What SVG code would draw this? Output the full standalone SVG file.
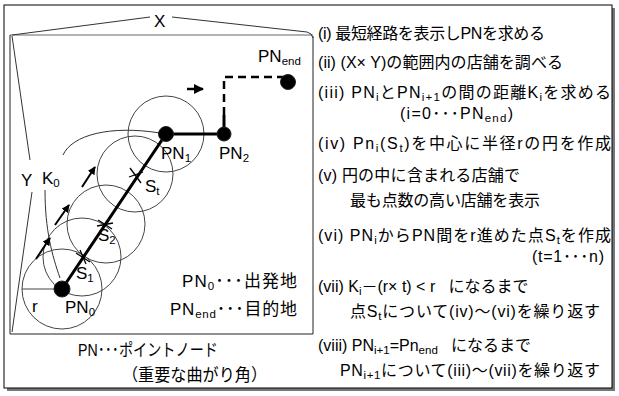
<svg xmlns="http://www.w3.org/2000/svg" width="619" height="396" viewBox="0 0 619 396">
<style>
.t{font-family:"Liberation Sans","Noto Sans CJK JP",sans-serif;font-size:17px;fill:#000}
.r{font-size:16px}
.s{font-size:11.5px}
.c{fill:none;stroke:#444;stroke-width:1}
.br{fill:none;stroke:#333;stroke-width:1}
.dot{fill:#000;stroke:#222;stroke-width:1}
.path{fill:none;stroke:#000;stroke-width:3}
.dash{fill:none;stroke:#000;stroke-width:2.5;stroke-dasharray:8 5}
.tick{stroke:#000;stroke-width:1.3}
</style>
<defs>
<marker id="ah" viewBox="0 0 10 10" refX="9" refY="5" markerWidth="4" markerHeight="4" orient="auto" markerUnits="strokeWidth"><path d="M0,0 L10,5 L0,10 z" fill="#000"/></marker>
</defs>
<g id="frame">
<rect x="7" y="8" width="608" height="383" fill="#777"/>
<rect x="4" y="5" width="608" height="383" fill="#fff" stroke="#000" stroke-width="1"/>
<line x1="10" y1="35" x2="313" y2="35" stroke="#999" stroke-width="1.5"/>
<polyline points="10,35 10,334 313,334 313,36" fill="none" stroke="#222" stroke-width="1"/>
</g>
<g id="brackets">
<path class="br" d="M12,35 L150,17"/>
<path class="br" d="M172,17 L307,32 Q312,33 313,38"/>
<text class="t" x="154" y="27" font-size="18">X</text>
<path class="br" d="M12,36 L30,160"/>
<path class="br" d="M32,192 L12,332"/>
<text class="t" x="21" y="186">Y</text>
<path class="br" d="M63,155 C72,135 110,125 160,133"/>
<path class="br" d="M45,190 C45,230 52,255 60,278"/>
<text class="t" x="42" y="184">K<tspan class="s" dy="3">0</tspan></text>
</g>
<g id="circles">
<circle class="c" cx="62" cy="289" r="40"/>
<circle class="c" cx="82" cy="257" r="39"/>
<circle class="c" cx="106" cy="224" r="39"/>
<circle class="c" cx="135" cy="174" r="38"/>
<circle class="c" cx="166" cy="134" r="38"/>
<line class="c" x1="22" y1="289" x2="62" y2="289"/>
</g>
<g id="connectors">
<polyline class="path" points="62,289 166,134 224,134 224,115"/>
<polyline class="dash" points="224,115 224,77 284,77"/>
<line x1="187" y1="89" x2="203" y2="89" stroke="#000" stroke-width="2.5" marker-end="url(#ah)"/>
<line x1="36" y1="259" x2="50" y2="238" stroke="#000" stroke-width="2" marker-end="url(#ah)"/>
<line x1="55" y1="225" x2="69" y2="205" stroke="#000" stroke-width="2" marker-end="url(#ah)"/>
<line x1="82" y1="187" x2="95" y2="167" stroke="#000" stroke-width="2" marker-end="url(#ah)"/>
</g>
<g id="PN0">
<circle class="dot" cx="62" cy="289" r="8"/>
<text class="t" x="65" y="313">PN<tspan class="s" dy="3">0</tspan></text>
<text class="t" x="32" y="312">r</text>
</g>
<g id="S1">
<line class="tick" x1="76" y1="253" x2="90" y2="262"/>
<line class="tick" x1="80" y1="250" x2="86" y2="264"/>
<text class="t" x="76" y="279">S<tspan class="s" dy="3">1</tspan></text>
</g>
<g id="S2">
<line class="tick" x1="98" y1="220" x2="112" y2="229"/>
<line class="tick" x1="97" y1="226" x2="113" y2="223"/>
<text class="t" x="98" y="241">S<tspan class="s" dy="3">2</tspan></text>
</g>
<g id="St">
<line class="tick" x1="130" y1="168" x2="141" y2="183"/>
<line class="tick" x1="129" y1="177" x2="143" y2="172"/>
<text class="t" x="145" y="192">S<tspan class="s" dy="3">t</tspan></text>
</g>
<g id="PN1">
<circle class="dot" cx="166" cy="134" r="7.5"/>
<text class="t" x="161" y="159">PN<tspan class="s" dy="3">1</tspan></text>
</g>
<g id="PN2">
<circle class="dot" cx="224" cy="134" r="7"/>
<text class="t" x="219" y="159">PN<tspan class="s" dy="3">2</tspan></text>
</g>
<g id="PNend">
<circle class="dot" cx="288" cy="82" r="7.5"/>
<text class="t" x="258" y="62">PN<tspan class="s" dy="3">end</tspan></text>
</g>
<g id="legend">
<text class="t" x="182" y="287" textLength="115" lengthAdjust="spacing">PN<tspan class="s" dy="3">0</tspan><tspan dy="-3">･･･出発地</tspan></text>
<text class="t" x="170" y="315" textLength="127" lengthAdjust="spacing">PN<tspan class="s" dy="3">end</tspan><tspan dy="-3">･･･目的地</tspan></text>
<text class="t" x="78" y="356" textLength="140" lengthAdjust="spacingAndGlyphs">PN･･･ポイントノード</text>
<text class="t" x="122" y="381" textLength="145" lengthAdjust="spacingAndGlyphs">（重要な曲がり角）</text>
</g>
<g id="steps">
<text class="t r" x="318" y="39" textLength="227" lengthAdjust="spacing">(i) 最短経路を表示しPNを求める</text>
<text class="t r" x="318" y="68" textLength="245" lengthAdjust="spacing">(ii) (X× Y)の範囲内の店舗を調べる</text>
<text class="t r" x="318" y="98" textLength="293" lengthAdjust="spacing">(iii) PN<tspan class="s" dy="3">i</tspan><tspan dy="-3">とPN</tspan><tspan class="s" dy="3">i+1</tspan><tspan dy="-3">の間の距離K</tspan><tspan class="s" dy="3">i</tspan><tspan dy="-3">を求める</tspan></text>
<text class="t r" x="400" y="119" textLength="113" lengthAdjust="spacing">(i=0･･･PN<tspan class="s" dy="3">end</tspan><tspan dy="-3">)</tspan></text>
<text class="t r" x="318" y="149" textLength="293" lengthAdjust="spacing">(iv) Pn<tspan class="s" dy="3">i</tspan><tspan dy="-3">(S</tspan><tspan class="s" dy="3">t</tspan><tspan dy="-3">)を中心に半径rの円を作成</tspan></text>
<text class="t r" x="318" y="181" textLength="202" lengthAdjust="spacing">(v) 円の中に含まれる店舗で</text>
<text class="t r" x="350" y="206" textLength="190" lengthAdjust="spacing">最も点数の高い店舗を表示</text>
<text class="t r" x="318" y="241" textLength="293" lengthAdjust="spacing">(vi) PN<tspan class="s" dy="3">i</tspan><tspan dy="-3">からPN間をr進めた点S</tspan><tspan class="s" dy="3">t</tspan><tspan dy="-3">を作成</tspan></text>
<text class="t r" x="532" y="262" textLength="72" lengthAdjust="spacing">(t=1･･･n)</text>
<text class="t r" x="318" y="292">(vii) K<tspan class="s" dy="3">i</tspan><tspan dy="-3">－(r× t) &lt; r&#160;&#160;&#160;になるまで</tspan></text>
<text class="t r" x="350" y="317" textLength="250" lengthAdjust="spacing">点S<tspan class="s" dy="3">t</tspan><tspan dy="-3">について(iv)～(vi)を繰り返す</tspan></text>
<text class="t r" x="318" y="351">(viii) PN<tspan class="s" dy="3">i+1</tspan><tspan dy="-3">=Pn</tspan><tspan class="s" dy="3">end</tspan><tspan dy="-3">&#160;&#160;&#160;になるまで</tspan></text>
<text class="t r" x="340" y="376" textLength="260" lengthAdjust="spacing">PN<tspan class="s" dy="3">i+1</tspan><tspan dy="-3">について(iii)～(vii)を繰り返す</tspan></text>
</g>
</svg>
